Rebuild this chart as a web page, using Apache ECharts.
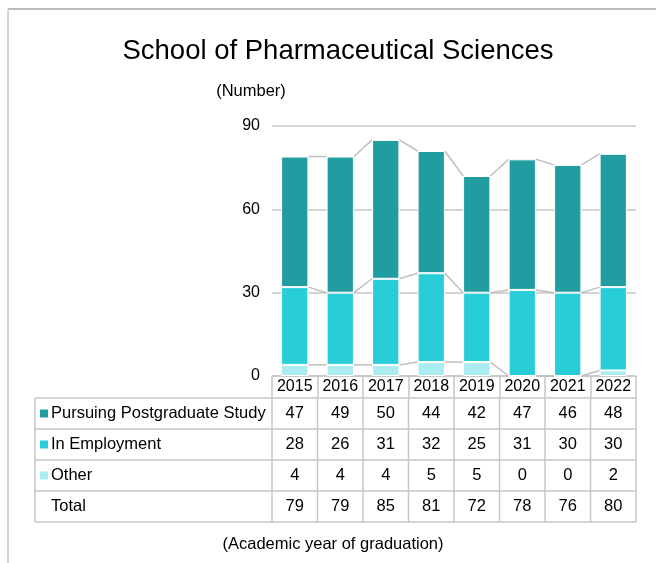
<!DOCTYPE html>
<html>
<head>
<meta charset="utf-8">
<script src="https://cdn.jsdelivr.net/npm/echarts@6/dist/echarts.min.js"></script>
<style>
  html, body { margin: 0; padding: 0; background: #fff; }
  #main { width: 656px; height: 563px; }
</style>
</head>
<body>
<div id="main"></div>
<script>
var years = ["2015", "2016", "2017", "2018", "2019", "2020", "2021", "2022"];
var postgrad = [47, 49, 50, 44, 42, 47, 46, 48];
var employment = [28, 26, 31, 32, 25, 31, 30, 30];
var other = [4, 4, 4, 5, 5, 0, 0, 2];
var totals = [79, 79, 85, 81, 72, 78, 76, 80];
var rowNames = ["Pursuing Postgraduate Study", "In Employment", "Other", "Total"];

var colors = ["#219ca0", "#28cdd7", "#aaecf0"];
var lineGray = "#c6c6c6";
var font = "Liberation Sans, Arial, sans-serif";

// stack levels for the connecting series lines
var levels = years.map(function (y, i) {
  var a = other[i];
  var b = a + employment[i];
  return [i, a, b, b + postgrad[i]];
});

var chart = echarts.init(document.getElementById("main"));

chart.setOption({
  animation: false,
  textStyle: { fontFamily: font },
  title: {
    text: "School of Pharmaceutical Sciences",
    left: 333,
    top: 32,
    textAlign: "center",
    textStyle: { fontSize: 27.5, fontWeight: "normal", color: "#000", fontFamily: font }
  },
  grid: { left: 272, right: 20, top: 126, bottom: 187 },
  xAxis: {
    type: "category",
    data: years,
    axisLine: { lineStyle: { color: lineGray, width: 1.5 } },
    axisTick: { show: true, length: 22, lineStyle: { color: lineGray, width: 1.5 } },
    axisLabel: { color: "#000", fontSize: 16, margin: 3, interval: 0 }
  },
  yAxis: {
    type: "value",
    min: 0,
    max: 90,
    interval: 30,
    name: "(Number)",
    nameLocation: "end",
    nameGap: 26,
    nameTextStyle: { color: "#000", fontSize: 16.5, align: "center", padding: [0, 0, 0, -42] },
    axisLine: { show: false },
    axisTick: { show: false },
    axisLabel: { color: "#000", fontSize: 16, margin: 12 },
    splitLine: { lineStyle: { color: "#c6c6c6", width: 1.5 } }
  },
  series: [
    {
      name: "Other",
      type: "bar",
      stack: "a",
      barWidth: "60%",
      data: other,
      itemStyle: { color: colors[2], borderColor: "#fff", borderWidth: 1 }
    },
    {
      name: "In Employment",
      type: "bar",
      stack: "a",
      data: employment,
      itemStyle: { color: colors[1], borderColor: "#fff", borderWidth: 1 }
    },
    {
      name: "Pursuing Postgraduate Study",
      type: "bar",
      stack: "a",
      data: postgrad,
      itemStyle: { color: colors[0], borderColor: "#fff", borderWidth: 1 }
    },
    {
      // series lines between bar tops
      type: "custom",
      z: 1,
      data: levels.slice(0, levels.length - 1),
      renderItem: function (params, api) {
        var i = api.value(0);
        var half = api.size([1, 0])[0] * 0.3;
        var kids = [];
        for (var k = 1; k <= 3; k++) {
          var p1 = api.coord([i, levels[i][k]]);
          var p2 = api.coord([i + 1, levels[i + 1][k]]);
          kids.push({
            type: "line",
            shape: { x1: p1[0] + half, y1: p1[1], x2: p2[0] - half, y2: p2[1] },
            style: { stroke: "#bfbfbf", lineWidth: 1.5 }
          });
        }
        return { type: "group", children: kids };
      }
    }
  ]
});

// data table under the axis
var colX = years.map(function (y, i) {
  return chart.convertToPixel({ xAxisIndex: 0 }, i);
});
var colW = colX[1] - colX[0];
var tableLeft = 35;
var tableRight = colX[colX.length - 1] + colW / 2;
var firstCol = colX[0] - colW / 2;
var rowTop = 398;
var rowH = 31;
var rows = [postgrad, employment, other, totals];

var g = [];
function hline(x1, x2, y) {
  g.push({ type: "line", shape: { x1: x1, y1: y, x2: x2, y2: y }, style: { stroke: lineGray, lineWidth: 1.5 }, silent: true });
}
function vline(x, y1, y2) {
  g.push({ type: "line", shape: { x1: x, y1: y1, x2: x, y2: y2 }, style: { stroke: lineGray, lineWidth: 1.5 }, silent: true });
}
for (var r = 0; r <= rows.length; r++) {
  hline(tableLeft, tableRight, rowTop + r * rowH);
}
var tableBottom = rowTop + rows.length * rowH;
vline(tableLeft, rowTop, tableBottom);
for (var c = 0; c <= years.length; c++) {
  vline(firstCol + c * colW, rowTop, tableBottom);
}
rows.forEach(function (vals, r) {
  var cy = rowTop + r * rowH + rowH / 2;
  if (r < 3) {
    g.push({ type: "rect", shape: { x: 40, y: cy - 4, width: 8, height: 8 }, style: { fill: colors[r] }, silent: true });
  }
  g.push({
    type: "text", x: 51, y: cy,
    style: { text: rowNames[r], fill: "#000", font: "16.5px " + font, verticalAlign: "middle" },
    silent: true
  });
  vals.forEach(function (v, i) {
    g.push({
      type: "text", x: colX[i], y: cy,
      style: { text: String(v), fill: "#000", font: "16.5px " + font, align: "center", verticalAlign: "middle" },
      silent: true
    });
  });
});
g.push({
  type: "text", x: 333, y: 544,
  style: { text: "(Academic year of graduation)", fill: "#000", font: "16.5px " + font, align: "center", verticalAlign: "middle" },
  silent: true
});
// outer frame
g.push({ type: "line", shape: { x1: 8, y1: 9, x2: 656, y2: 9 }, style: { stroke: "#a6a6a6", lineWidth: 1.5 }, silent: true });
g.push({ type: "line", shape: { x1: 8, y1: 9, x2: 8, y2: 563 }, style: { stroke: "#c8c8c8", lineWidth: 1.5 }, silent: true });

chart.setOption({ graphic: g });
</script>
</body>
</html>
